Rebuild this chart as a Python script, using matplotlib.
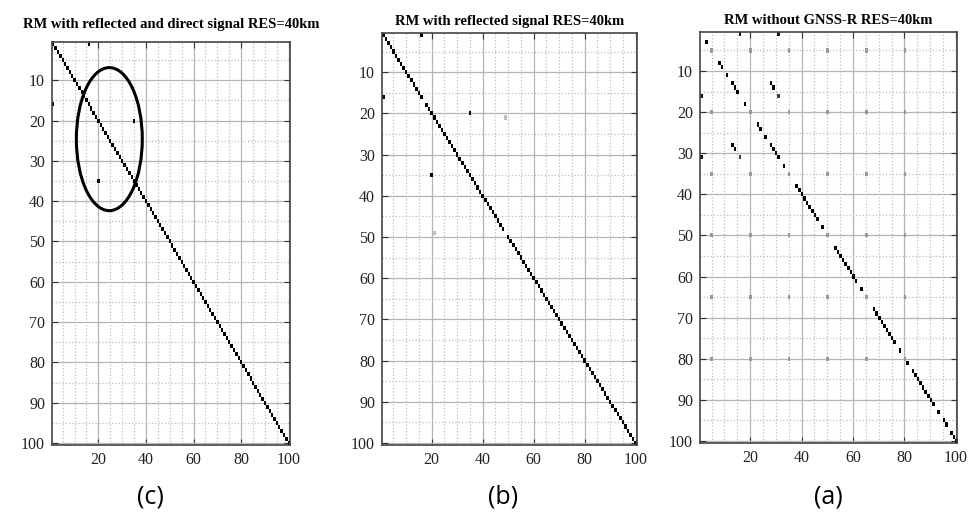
import numpy as np
import matplotlib
matplotlib.use('Agg')
import matplotlib.pyplot as plt
from matplotlib.patches import Ellipse
from matplotlib.ticker import MultipleLocator

# Datos: matrices de resolucion 100x100 (fila, columna, valor)
N = 100

titulo_c = 'RM with reflected and direct signal RES=40km'
titulo_b = 'RM with reflected signal RES=40km'
titulo_a = 'RM without GNSS-R RES=40km'

etiquetas = ['(c)', '(b)', '(a)']

# (c) diagonal completa + puntos fuera de la diagonal
diag_c = list(range(1, 101))
extra_c = [(1, 16, 1.0), (16, 1, 1.0), (20, 35, 1.0), (35, 20, 1.0)]

# (b) diagonal con huecos en 17 y 49
diag_b = [i for i in range(1, 101) if i not in (17, 49)]
extra_b = [(1, 16, 1.0), (16, 1, 1.0), (20, 35, 1.0), (35, 20, 1.0),
           (21, 49, 0.25), (49, 21, 0.25)]

# (a) diagonal con muchos huecos
diag_a = [3, 8, 9, 11, 13, 14, 15, 18, 23, 24, 26, 28, 29, 30, 31, 33,
          38, 39, 40, 41, 42, 43, 44, 45, 46, 48,
          53, 54, 55, 56, 57, 58, 59, 60, 61, 63,
          68, 69, 70, 71, 72, 73, 74, 75, 76, 78, 81,
          83, 84, 85, 86, 87, 88, 89, 90, 91, 93, 95, 96, 98, 99, 100]
extra_a = [(13, 28, 1.0), (14, 29, 1.0), (28, 13, 1.0), (29, 14, 1.0),
           (16, 31, 0.75), (31, 16, 0.75),
           (1, 16, 0.9), (1, 31, 0.9), (16, 1, 0.9), (31, 1, 0.9)]
rejilla_a = [5, 20, 35, 50, 65, 80]   # puntos grises en la malla
valor_rejilla_a = 0.4

# elipse del panel (c): centro (x, y), ancho, alto
elipse_c = (24.6, 24.6, 27.7, 35.5)


def armar_matriz(diag, extra, rejilla=None, val_rej=0.0):
    M = np.zeros((N, N))
    if rejilla is not None:
        for r in rejilla:
            for c in rejilla:
                M[r - 1, c - 1] = val_rej
    for i in diag:
        M[i - 1, i - 1] = 1.0
    for r, c, v in extra:
        M[r - 1, c - 1] = v
    return M


M_c = armar_matriz(diag_c, extra_c)
M_b = armar_matriz(diag_b, extra_b)
M_a = armar_matriz(diag_a, extra_a, rejilla_a, valor_rejilla_a)

fig = plt.figure(figsize=[9.75, 5.16], dpi=100)

posiciones = [[0.0533, 0.1376, 0.2441, 0.781],
              [0.3918, 0.1376, 0.2615, 0.7984],
              [0.7180, 0.1415, 0.2636, 0.7965]]
matrices = [M_c, M_b, M_a]
titulos = [titulo_c, titulo_b, titulo_a]
x_etiq = [150 / 975, 503 / 975, 828 / 975]

for k in range(3):
    ax = fig.add_axes(posiciones[k])
    # ceros transparentes para que la malla se vea detras
    M = np.ma.masked_equal(matrices[k], 0)
    ax.imshow(M, cmap='gray_r', vmin=0, vmax=1, aspect='auto',
              interpolation='nearest', extent=[0.5, 100.5, 100.5, 0.5],
              zorder=3)
    ax.set_xlim(0.5, 100.5)
    ax.set_ylim(100.5, 0.5)

    ax.xaxis.set_minor_locator(MultipleLocator(5))
    ax.yaxis.set_minor_locator(MultipleLocator(5))
    ax.set_xticks([20, 40, 60, 80, 100])
    ax.set_yticks(list(range(10, 101, 10)))

    ax.set_axisbelow(True)
    ax.grid(which='major', color='#b4b4b4', linestyle='-', linewidth=0.9)
    ax.grid(which='minor', color='#bdbdbd', linestyle=':', linewidth=0.9)

    ax.tick_params(which='major', direction='in', length=4, width=0.8,
                   top=True, right=True, labelsize=11.5, colors='#333333',
                   labelcolor='#222222', pad=5)
    ax.tick_params(which='minor', length=0)
    for lab in ax.get_xticklabels() + ax.get_yticklabels():
        lab.set_family('Liberation Serif')
    for s in ax.spines.values():
        s.set_color('#444444')
        s.set_linewidth(1.2)
        s.set_zorder(6)

    ax.set_title(titulos[k], fontsize=10.5, fontweight='bold',
                 family='Liberation Serif', pad=10 if k == 0 else 6)

    if k == 0:
        cx, cy, w, h = elipse_c
        ax.add_patch(Ellipse((cx, cy), w, h, fill=False, edgecolor='black',
                             linewidth=2.2, zorder=7))

    fig.text(x_etiq[k], 1 - 497 / 516, etiquetas[k], ha='center', va='center',
             fontsize=18, family='Open Sans')

fig.savefig('out.png', dpi=100)
